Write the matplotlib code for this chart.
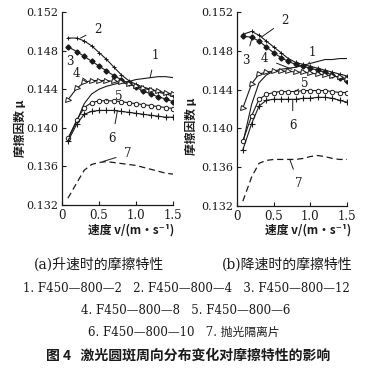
import matplotlib
matplotlib.use("Agg")
import matplotlib.pyplot as plt

# ---------------- data ----------------
speed = [0.08, 0.2, 0.3, 0.4, 0.5, 0.6, 0.7, 0.8, 0.9, 1.0, 1.1, 1.2, 1.3, 1.4, 1.5]

# (a) accelerating
a1 = [0.1388, 0.1407, 0.1425, 0.1435, 0.1440, 0.1443, 0.1445, 0.1447, 0.1448, 0.1450, 0.1451, 0.1452, 0.1453, 0.1453, 0.1452]
a2 = [0.1493, 0.1493, 0.1490, 0.1485, 0.1478, 0.1471, 0.1463, 0.1455, 0.1449, 0.1445, 0.1442, 0.1440, 0.1437, 0.1435, 0.1433]
a3 = [0.1484, 0.1479, 0.1474, 0.1469, 0.1464, 0.1459, 0.1454, 0.1450, 0.1446, 0.1442, 0.1438, 0.1435, 0.1432, 0.1430, 0.1427]
a4 = [0.1429, 0.1441, 0.1447, 0.1449, 0.1449, 0.1449, 0.1448, 0.1447, 0.1445, 0.1443, 0.1441, 0.1439, 0.1438, 0.1436, 0.1435]
a5 = [0.1389, 0.1408, 0.1421, 0.1426, 0.1428, 0.1428, 0.1428, 0.1427, 0.1426, 0.1425, 0.1424, 0.1423, 0.1422, 0.1421, 0.1420]
a6 = [0.1386, 0.1404, 0.1414, 0.1417, 0.1418, 0.1418, 0.1418, 0.1417, 0.1416, 0.1415, 0.1414, 0.1413, 0.1412, 0.1411, 0.1411]
a7 = [0.1327, 0.1343, 0.1356, 0.1362, 0.1364, 0.1365, 0.1364, 0.1363, 0.1362, 0.1361, 0.1359, 0.1357, 0.1355, 0.1353, 0.1352]

# (b) decelerating
b1 = [0.1385, 0.1425, 0.1447, 0.1455, 0.1459, 0.1461, 0.1462, 0.1463, 0.1465, 0.1467, 0.1469, 0.1471, 0.1471, 0.1472, 0.1472]
b2 = [0.1497, 0.1500, 0.1496, 0.1490, 0.1484, 0.1478, 0.1472, 0.1468, 0.1466, 0.1464, 0.1462, 0.1460, 0.1458, 0.1456, 0.1454]
b3 = [0.1495, 0.1494, 0.1490, 0.1484, 0.1478, 0.1473, 0.1469, 0.1466, 0.1464, 0.1462, 0.1460, 0.1458, 0.1455, 0.1452, 0.1449]
b4 = [0.1421, 0.1446, 0.1456, 0.1458, 0.1459, 0.1459, 0.1459, 0.1458, 0.1458, 0.1457, 0.1456, 0.1455, 0.1454, 0.1453, 0.1451]
b5 = [0.1387, 0.1413, 0.1430, 0.1435, 0.1437, 0.1438, 0.1438, 0.1438, 0.1439, 0.1439, 0.1439, 0.1439, 0.1438, 0.1437, 0.1437]
b6 = [0.1378, 0.1405, 0.1423, 0.1429, 0.1430, 0.1430, 0.1430, 0.1430, 0.1431, 0.1431, 0.1432, 0.1432, 0.1431, 0.1429, 0.1427]
b7 = [0.1325, 0.1350, 0.1364, 0.1367, 0.1368, 0.1368, 0.1368, 0.1368, 0.1369, 0.1371, 0.1372, 0.1371, 0.1369, 0.1368, 0.1368]

yticks = [0.132, 0.136, 0.140, 0.144, 0.148, 0.152]
xticks = [0, 0.5, 1.0, 1.5]
curve_ids = ["1", "2", "3", "4", "5", "6", "7"]

# label placements (text position, leader end) in data units
labels_a = {"2": ((0.48, 0.1502), (0.25, 0.1493)),
            "1": ((1.26, 0.1475), (1.19, 0.1452)),
            "3": ((0.10, 0.1469), (0.20, 0.1479)),
            "4": ((0.19, 0.1456), (0.33, 0.1449)),
            "5": ((0.77, 0.1432), (0.60, 0.1428)),
            "6": ((0.68, 0.1389), (0.75, 0.1418)),
            "7": ((0.89, 0.1373), (0.55, 0.1365))}
labels_b = {"2": ((0.65, 0.1511), (0.33, 0.1494)),
            "1": ((1.03, 0.1478), (0.98, 0.1467)),
            "3": ((0.12, 0.1470), (0.20, 0.1492)),
            "4": ((0.38, 0.1472), (0.75, 0.1461)),
            "5": ((0.93, 0.1446), (0.80, 0.1438)),
            "6": ((0.76, 0.1403), (0.76, 0.1430)),
            "7": ((0.84, 0.1343), (0.72, 0.1368))}

SERIF = ["DejaVu Serif", "Noto Sans CJK SC"]
CJK = ["Noto Sans CJK SC", "DejaVu Sans"]
INK = "#1a1a1a"

W, H = 376, 368
fig = plt.figure(figsize=(W / 100, H / 100), dpi=100)


def px_axes(x0, x1, y_top, y_bot):
    return fig.add_axes([x0 / W, 1 - y_bot / H, (x1 - x0) / W, (y_bot - y_top) / H])


def draw_panel(ax, series, labels):
    s1, s2, s3, s4, s5, s6, s7 = series
    lw = 0.8
    ax.plot(speed, s1, color=INK, lw=lw)
    ax.plot(speed, s2, color=INK, lw=lw, marker="+", ms=3, mew=0.7)
    ax.plot(speed, s3, color=INK, lw=lw, marker="D", ms=2.6, mfc=INK)
    ax.plot(speed, s4, color=INK, lw=lw, marker=">", ms=3.6, mfc="white", mew=0.7)
    ax.plot(speed, s5, color=INK, lw=lw, marker="o", ms=3.2, mfc="white", mew=0.7)
    ax.plot(speed, s6, color=INK, lw=lw, marker="+", ms=4.5, mew=0.8)
    ax.plot(speed, s7, color=INK, lw=0.9, ls=(0, (5, 3)))
    ax.set_xlim(0, 1.5)
    ax.set_ylim(0.132, 0.152)
    ax.set_yticks(yticks)
    ax.set_yticklabels([f"{t:.3f}" for t in yticks], family=SERIF, fontsize=8)
    ax.set_xticks(xticks)
    ax.set_xticklabels(["0", "0.5", "1.0", "1.5"], family=SERIF, fontsize=8.5)
    ax.tick_params(direction="in", length=3, width=0.8, colors=INK, pad=3)
    for s in ("top", "right"):
        ax.spines[s].set_visible(False)
    for s in ("left", "bottom"):
        ax.spines[s].set_linewidth(0.9)
        ax.spines[s].set_color(INK)
    ax.patch.set_alpha(0)
    for k in curve_ids:
        (tx, ty), (lx, ly) = labels[k]
        ax.annotate(k, xy=(lx, ly), xytext=(tx, ty), ha="center", va="center",
                    family=SERIF, fontsize=8.5, color=INK,
                    arrowprops=dict(arrowstyle="-", color=INK, lw=0.7,
                                    shrinkA=4, shrinkB=0))


axa = px_axes(62, 173, 12, 205)
draw_panel(axa, [a1, a2, a3, a4, a5, a6, a7], labels_a)
axb = px_axes(237, 347, 12, 206)
draw_panel(axb, [b1, b2, b3, b4, b5, b6, b7], labels_b)


def ftext(x, y, s, **kw):
    fig.text(x / W, 1 - y / H, s, **kw)


# axis titles
ftext(20, 128, "摩擦因数 μ", rotation=90, ha="center", va="center",
      family=CJK, fontsize=8.5, weight="bold", color=INK)
ftext(192, 126, "摩擦因数 μ", rotation=90, ha="center", va="center",
      family=CJK, fontsize=8.5, weight="bold", color=INK)
ftext(131, 230, "速度 v/(m·s⁻¹)", ha="center", va="center",
      family=["Noto Sans CJK SC", "DejaVu Serif"], fontsize=8.5, weight="bold", color=INK)
ftext(308, 230, "速度 v/(m·s⁻¹)", ha="center", va="center",
      family=["Noto Sans CJK SC", "DejaVu Serif"], fontsize=8.5, weight="bold", color=INK)

# captions
ftext(99, 264, "(a)升速时的摩擦特性", ha="center", va="center",
      family=SERIF, fontsize=10, color=INK)
ftext(287, 264, "(b)降速时的摩擦特性", ha="center", va="center",
      family=SERIF, fontsize=10, color=INK)
ftext(186, 289, "1. F450—800—2   2. F450—800—4   3. F450—800—12", ha="center",
      va="center", family=SERIF, fontsize=8.5, color=INK)
ftext(186, 311, "4. F450—800—8   5. F450—800—6", ha="center",
      va="center", family=SERIF, fontsize=8.5, color=INK)
ftext(184, 332, "6. F450—800—10   7. 抛光隔离片", ha="center",
      va="center", family=SERIF, fontsize=8.5, color=INK)
ftext(188, 356, "图 4   激光圆斑周向分布变化对摩擦特性的影响", ha="center",
      va="center", family=CJK, fontsize=10, weight="bold", color=INK)

fig.savefig("out.png", dpi=100)
